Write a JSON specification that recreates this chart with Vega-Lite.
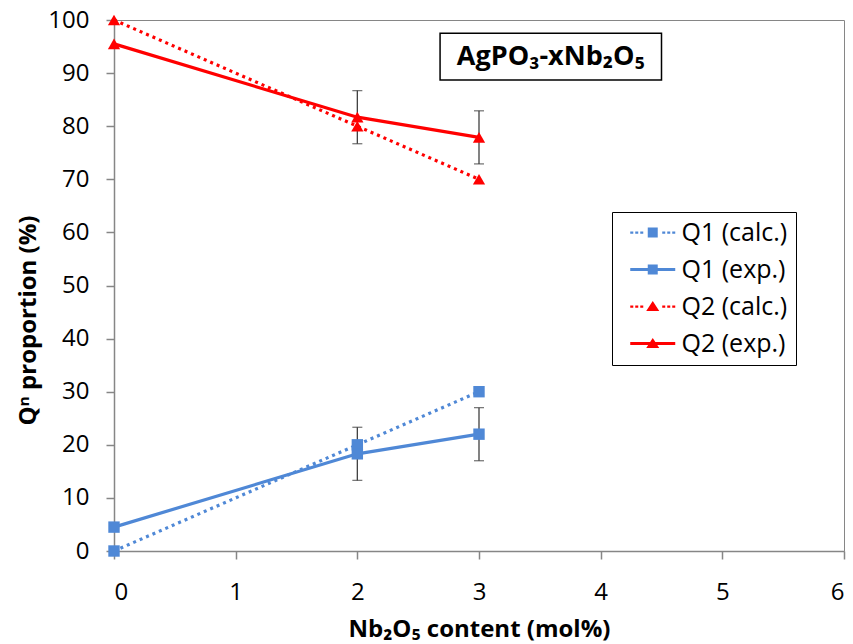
{
  "$schema": "https://vega.github.io/schema/vega-lite/v6.json",
  "width": 730,
  "height": 531,
  "autosize": "none",
  "padding": {"left": 114, "top": 20, "right": 9, "bottom": 93},
  "config": {
    "font": "Open Sans",
    "view": {"stroke": "#868686", "strokeWidth": 1},
    "axis": {"grid": false}
  },
  "datasets": {
    "pts": [
      {"series": "Q1 (calc.)", "q": "Q1", "kind": "calc", "x": 0, "y": 0},
      {"series": "Q1 (calc.)", "q": "Q1", "kind": "calc", "x": 2, "y": 20},
      {"series": "Q1 (calc.)", "q": "Q1", "kind": "calc", "x": 3, "y": 30},
      {"series": "Q1 (exp.)", "q": "Q1", "kind": "exp", "x": 0, "y": 4.5},
      {"series": "Q1 (exp.)", "q": "Q1", "kind": "exp", "x": 2, "y": 18.3, "lo": 13.3, "hi": 23.3},
      {"series": "Q1 (exp.)", "q": "Q1", "kind": "exp", "x": 3, "y": 22, "lo": 17, "hi": 27},
      {"series": "Q2 (calc.)", "q": "Q2", "kind": "calc", "x": 0, "y": 100},
      {"series": "Q2 (calc.)", "q": "Q2", "kind": "calc", "x": 2, "y": 80},
      {"series": "Q2 (calc.)", "q": "Q2", "kind": "calc", "x": 3, "y": 70},
      {"series": "Q2 (exp.)", "q": "Q2", "kind": "exp", "x": 0, "y": 95.5},
      {"series": "Q2 (exp.)", "q": "Q2", "kind": "exp", "x": 2, "y": 81.7, "lo": 76.7, "hi": 86.7},
      {"series": "Q2 (exp.)", "q": "Q2", "kind": "exp", "x": 3, "y": 77.9, "lo": 72.9, "hi": 82.9}
    ]
  },
  "layer": [
    {
      "data": {"values": [{"text": "AgPO₃-xNb₂O₅"}]},
      "mark": {"type": "rect", "fill": "white", "stroke": "#000000", "strokeWidth": 1.5},
      "encoding": {
        "x": {"datum": 2.68, "type": "quantitative", "scale": {"domain": [0, 6], "nice": false, "zero": false}},
        "x2": {"datum": 4.5},
        "y": {"datum": 97.5, "type": "quantitative", "scale": {"domain": [0, 100], "nice": false}},
        "y2": {"datum": 88.7}
      }
    },
    {
      "data": {"values": [{"text": "AgPO₃-xNb₂O₅"}]},
      "mark": {"type": "text", "fontSize": 27, "fontWeight": "bold", "color": "#000000", "align": "center", "baseline": "middle"},
      "encoding": {
        "x": {"datum": 3.59, "type": "quantitative"},
        "y": {"datum": 93, "type": "quantitative"},
        "text": {"field": "text", "type": "nominal"}
      }
    },
    {
      "data": {"name": "pts"},
      "encoding": {
        "x": {
          "field": "x", "type": "quantitative",
          "scale": {"domain": [0, 6], "nice": false, "zero": false},
          "axis": {
            "title": "Nb₂O₅ content (mol%)",
            "values": [0, 1, 2, 3, 4, 5, 6],
            "format": "d",
            "labelFontSize": 24, "labelColor": "#000000", "labelPadding": 21,
            "tickSize": 8, "tickColor": "#868686", "tickWidth": 1.5,
            "domainColor": "#868686", "domainWidth": 1.5,
            "titleFontSize": 24, "titleFontWeight": "bold", "titleColor": "#000000",
            "titleX": 365, "titleY": 85, "titleBaseline": "alphabetic", "titleAlign": "center"
          }
        },
        "y": {
          "field": "y", "type": "quantitative",
          "scale": {"domain": [0, 100], "nice": false},
          "axis": {
            "title": "Qⁿ proportion (%)",
            "values": [0, 10, 20, 30, 40, 50, 60, 70, 80, 90, 100],
            "labelFontSize": 24, "labelColor": "#000000", "labelPadding": 17,
            "tickSize": 8, "tickColor": "#868686", "tickWidth": 1.5,
            "domainColor": "#868686", "domainWidth": 1.5,
            "titleFontSize": 24, "titleFontWeight": "bold", "titleColor": "#000000",
            "titleX": -86, "titleY": 300, "titleBaseline": "middle", "titleAlign": "center", "titleAngle": -90
          }
        }
      },
      "layer": [
        {
          "transform": [{"filter": "datum.series == 'Q1 (calc.)'"}],
          "mark": {"type": "line", "strokeWidth": 3.2, "strokeCap": "butt", "stroke": "#4F88D6", "strokeDash": [3, 4]}
        },
        {
          "transform": [{"filter": "datum.series == 'Q1 (exp.)'"}],
          "mark": {"type": "line", "strokeWidth": 3.2, "stroke": "#4F88D6"}
        },
        {
          "transform": [{"filter": "datum.series == 'Q2 (calc.)'"}],
          "mark": {"type": "line", "strokeWidth": 3.2, "strokeCap": "butt", "stroke": "#FF0000", "strokeDash": [3, 4]}
        },
        {
          "transform": [{"filter": "datum.series == 'Q2 (exp.)'"}],
          "mark": {"type": "line", "strokeWidth": 3.2, "stroke": "#FF0000"}
        },
        {
          "transform": [{"filter": "isValid(datum.lo)"}],
          "mark": {"type": "rule", "color": "#404040", "strokeWidth": 1.3},
          "encoding": {
            "y": {"field": "lo", "type": "quantitative"},
            "y2": {"field": "hi"}
          }
        },
        {
          "transform": [{"filter": "isValid(datum.lo)"}],
          "mark": {"type": "tick", "orient": "horizontal", "color": "#404040", "size": 10, "thickness": 1.3},
          "encoding": {"y": {"field": "lo", "type": "quantitative"}}
        },
        {
          "transform": [{"filter": "isValid(datum.hi)"}],
          "mark": {"type": "tick", "orient": "horizontal", "color": "#404040", "size": 10, "thickness": 1.3},
          "encoding": {"y": {"field": "hi", "type": "quantitative"}}
        },
        {
          "transform": [{"filter": "datum.q == 'Q1'"}],
          "mark": {"type": "point", "shape": "square", "filled": true, "size": 130, "color": "#4F88D6", "opacity": 1}
        },
        {
          "transform": [{"filter": "datum.q == 'Q2'"}],
          "mark": {"type": "point", "shape": "triangle-up", "filled": true, "size": 150, "color": "#FF0000", "opacity": 1}
        },
        {
          "transform": [{"filter": "datum.x > 100"}],
          "mark": {"type": "point", "filled": true, "opacity": 1},
          "encoding": {
            "color": {"field": "series", "type": "nominal",
              "scale": {"domain": ["Q1 (calc.)", "Q1 (exp.)", "Q2 (calc.)", "Q2 (exp.)"], "range": ["#4F88D6", "#4F88D6", "#FF0000", "#FF0000"]},
              "legend": {
                "title": null, "orient": "none", "legendX": 498, "legendY": 192,
                "labelFontSize": 25, "labelColor": "#000000", "labelOffset": 36.5,
                "symbolSize": 506, "symbolStrokeWidth": 0,
                "rowPadding": 11, "padding": 8,
                "strokeColor": "#000000", "fillColor": "white", "cornerRadius": 0
              }},
            "shape": {"field": "series", "type": "nominal",
              "scale": {"domain": ["Q1 (calc.)", "Q1 (exp.)", "Q2 (calc.)", "Q2 (exp.)"],
                "range": [
                  "M-0.2,-0.1L0.07,-0.1L0.07,0.1L-0.2,0.1Z M0.244,-0.1L0.511,-0.1L0.511,0.1L0.244,0.1Z M0.689,-0.1L0.956,-0.1L0.956,0.1L0.689,0.1Z M1.356,-0.44L2.244,-0.44L2.244,0.44L1.356,0.44Z M2.644,-0.1L2.911,-0.1L2.911,0.1L2.644,0.1Z M3.089,-0.1L3.356,-0.1L3.356,0.1L3.089,0.1Z M3.533,-0.1L3.8,-0.1L3.8,0.1L3.533,0.1Z",
                  "M-0.2,-0.13L3.8,-0.13L3.8,0.13L-0.2,0.13Z M1.356,-0.44L2.244,-0.44L2.244,0.44L1.356,0.44Z",
                  "M-0.2,-0.1L0.07,-0.1L0.07,0.1L-0.2,0.1Z M0.244,-0.1L0.511,-0.1L0.511,0.1L0.244,0.1Z M0.689,-0.1L0.956,-0.1L0.956,0.1L0.689,0.1Z M1.8,-0.49L2.38,0.4L1.22,0.4Z M2.644,-0.1L2.911,-0.1L2.911,0.1L2.644,0.1Z M3.089,-0.1L3.356,-0.1L3.356,0.1L3.089,0.1Z M3.533,-0.1L3.8,-0.1L3.8,0.1L3.533,0.1Z",
                  "M-0.2,-0.13L3.8,-0.13L3.8,0.13L-0.2,0.13Z M1.8,-0.49L2.38,0.4L1.22,0.4Z"
                ]}
            }
          }
        }
      ]
    }
  ]
}
